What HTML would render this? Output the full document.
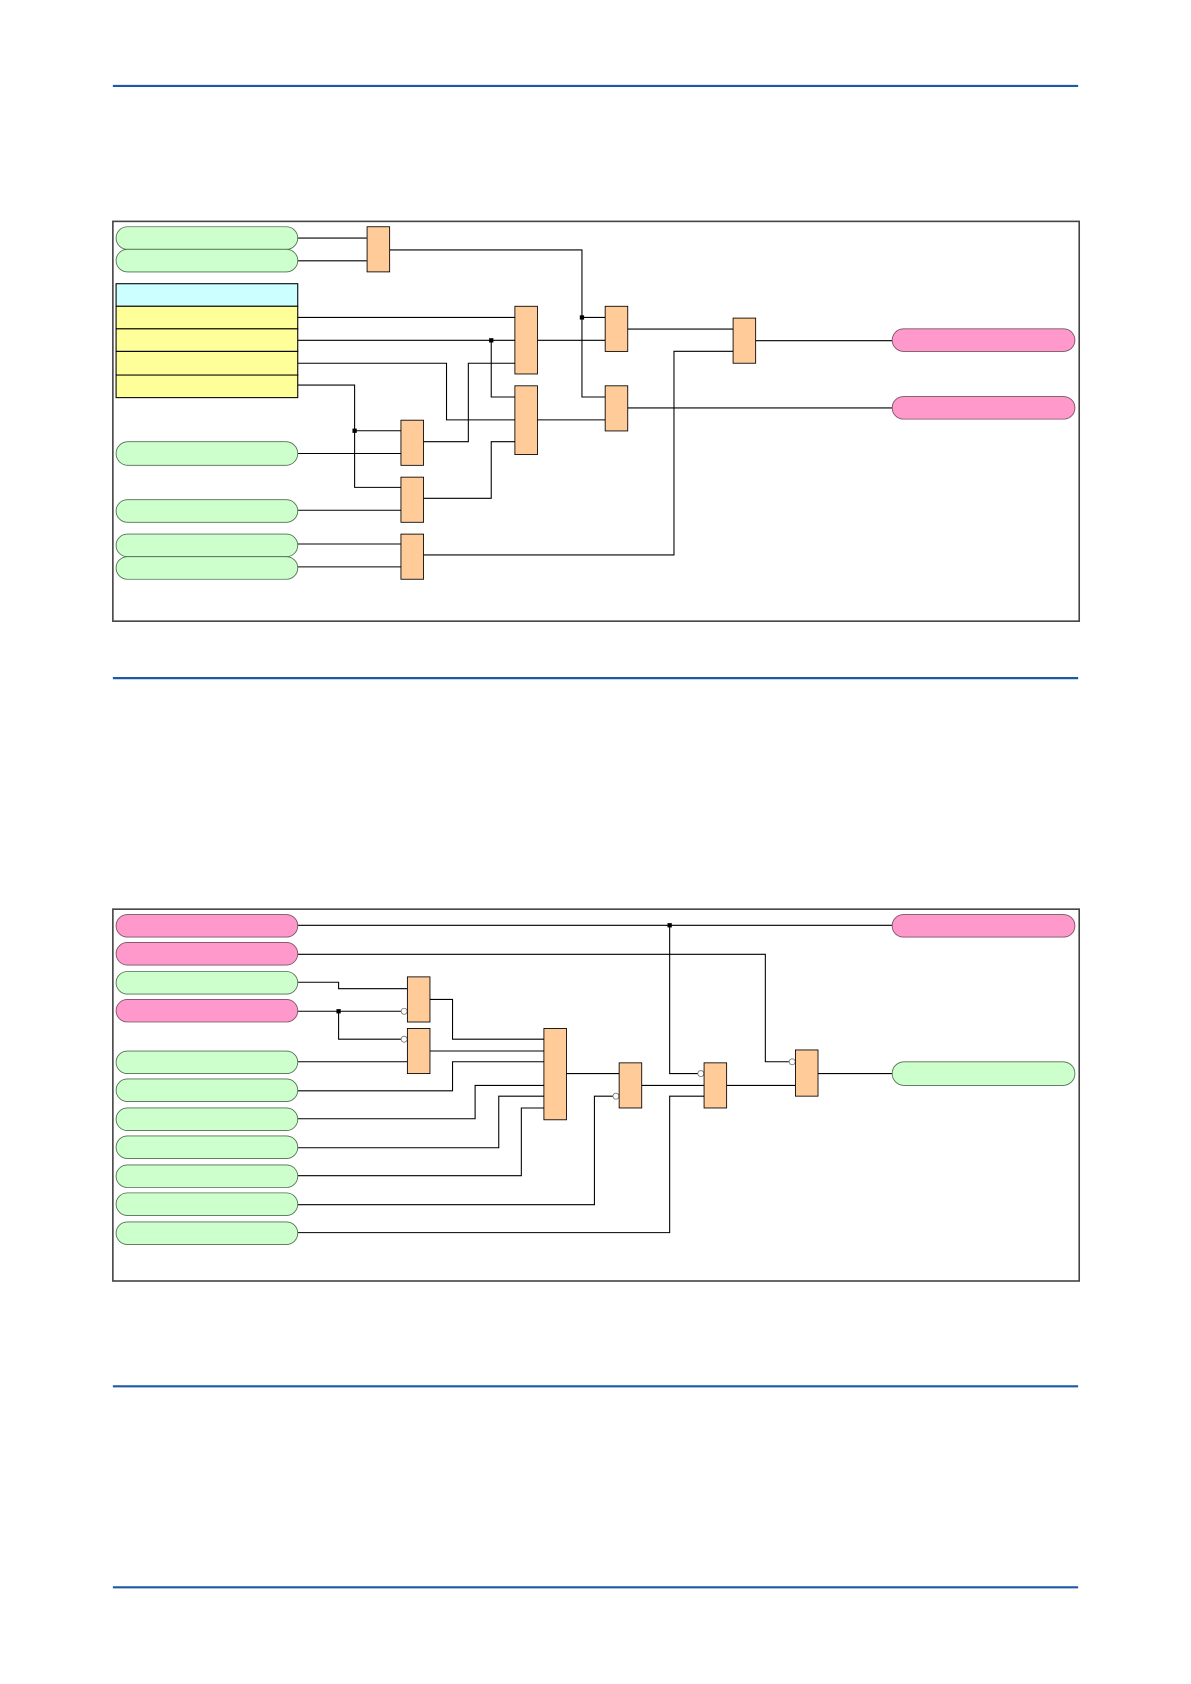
<!DOCTYPE html>
<html><head><meta charset="utf-8"><style>
html,body{margin:0;padding:0;background:#fff;}
svg{display:block;}
</style></head><body>
<svg width="1191" height="1684" viewBox="0 0 1108 1567" preserveAspectRatio="none" xmlns="http://www.w3.org/2000/svg">
<g stroke="#1a5aa6" stroke-width="2">
<line x1="105" y1="80" x2="1003" y2="80"/>
<line x1="105" y1="631" x2="1003" y2="631"/>
<line x1="105" y1="1290" x2="1003" y2="1290"/>
<line x1="105" y1="1477" x2="1003" y2="1477"/>
</g>
<!-- Diagram 1 -->
<rect x="105" y="206" width="899" height="372" fill="#fff" stroke="#444" stroke-width="1.5"/>
<g fill="none" stroke="#000" stroke-width="1">
<polyline points="277,221.5 341,221.5"/>
<polyline points="277,242.7 341,242.7"/>
<polyline points="362,232.6 541.4,232.6 541.4,369.4 563,369.4"/>
<polyline points="541.4,295.4 563,295.4"/>
<polyline points="277,295.4 479,295.4"/>
<polyline points="277,316.7 479,316.7"/>
<polyline points="457,316.7 457,369.4 479,369.4"/>
<polyline points="277,338 415.4,338 415.4,390.7 479,390.7"/>
<polyline points="394,411 435.7,411 435.7,338 479,338"/>
<polyline points="277,358.3 329.9,358.3 329.9,453.5 373,453.5"/>
<polyline points="329.9,400.8 373,400.8"/>
<polyline points="277,422 373,422"/>
<polyline points="394,463.7 457,463.7 457,411 479,411"/>
<polyline points="277,474.8 373,474.8"/>
<polyline points="277,506.2 373,506.2"/>
<polyline points="277,527.5 373,527.5"/>
<polyline points="394,516.4 627,516.4 627,326.9 682,326.9"/>
<polyline points="500,316.7 563,316.7"/>
<polyline points="584,306.2 682,306.2"/>
<polyline points="500,390.7 563,390.7"/>
<polyline points="584,379.6 830,379.6"/>
<polyline points="703,317 830,317"/>
</g>
<g fill="#000"><rect x="539.4" y="293.4" width="4" height="4"/><rect x="455" y="314.7" width="4" height="4"/><rect x="327.9" y="398.8" width="4" height="4"/></g>
<g fill="#ccffcc" stroke="#4f6f4f" stroke-width="0.8">
<rect x="108" y="211" width="169" height="21" rx="10.5"/>
<rect x="108" y="232" width="169" height="21" rx="10.5"/>
<rect x="108" y="411" width="169" height="22" rx="11"/>
<rect x="108" y="465" width="169" height="21" rx="10.5"/>
<rect x="108" y="497" width="169" height="21" rx="10.5"/>
<rect x="108" y="518" width="169" height="21" rx="10.5"/>
</g>
<g stroke="#000" stroke-width="1">
<rect x="108" y="264" width="169" height="21" fill="#ccffff"/>
<rect x="108" y="285" width="169" height="21" fill="#ffff99"/>
<rect x="108" y="306" width="169" height="21" fill="#ffff99"/>
<rect x="108" y="327" width="169" height="22" fill="#ffff99"/>
<rect x="108" y="349" width="169" height="21" fill="#ffff99"/>
</g>
<g fill="#ffcc99" stroke="#000" stroke-width="0.8">
<rect x="341.5" y="211" width="21" height="42"/>
<rect x="479" y="285" width="21" height="63"/>
<rect x="479" y="359" width="21" height="64"/>
<rect x="563" y="285" width="21" height="42"/>
<rect x="563" y="359" width="21" height="42"/>
<rect x="373" y="391" width="21" height="42"/>
<rect x="373" y="444" width="21" height="42"/>
<rect x="373" y="497" width="21" height="42"/>
<rect x="682" y="296" width="21" height="42"/>
</g>
<g fill="#ff99cc" stroke="#7a5060" stroke-width="0.8">
<rect x="830" y="306" width="170" height="21" rx="10.5"/>
<rect x="830" y="369" width="170" height="21" rx="10.5"/>
</g>
<!-- Diagram 2 -->
<rect x="105" y="846" width="899" height="346" fill="#fff" stroke="#444" stroke-width="1.5"/>
<g fill="none" stroke="#000" stroke-width="1">
<polyline points="277,861 830,861"/>
<polyline points="623,861 623,999 651,999"/>
<polyline points="277,888 712,888 712,988 736,988"/>
<polyline points="277,914 315,914 315,920 379,920"/>
<polyline points="277,941 375,941"/>
<polyline points="315,941 315,967 375,967"/>
<polyline points="277,988 379,988"/>
<polyline points="400,930 421,930 421,967 506,967"/>
<polyline points="400,978 506,978"/>
<polyline points="277,1015 421,1015 421,988 506,988"/>
<polyline points="277,1041 442,1041 442,1010 506,1010"/>
<polyline points="277,1068 464,1068 464,1020 506,1020"/>
<polyline points="277,1094 485,1094 485,1031 506,1031"/>
<polyline points="527,999 576,999"/>
<polyline points="277,1121 553,1121 553,1020 572,1020"/>
<polyline points="597,1010 655,1010"/>
<polyline points="277,1147 623,1147 623,1020 655,1020"/>
<polyline points="676,1010 740,1010"/>
<polyline points="761,999 830,999"/>
</g>
<g fill="#000"><rect x="621" y="859" width="4" height="4"/><rect x="313" y="939" width="4" height="4"/></g>
<g fill="#fff" stroke="#777" stroke-width="0.8">
<circle cx="376" cy="941" r="2.8"/><circle cx="376" cy="967" r="2.8"/>
<circle cx="573" cy="1020" r="2.8"/><circle cx="652" cy="999" r="2.8"/>
<circle cx="737" cy="988" r="2.8"/>
</g>
<g fill="#ff99cc" stroke="#7a5060" stroke-width="0.8">
<rect x="108" y="851" width="169" height="21" rx="10.5"/>
<rect x="108" y="877" width="169" height="21" rx="10.5"/>
<rect x="108" y="930" width="169" height="21" rx="10.5"/>
<rect x="830" y="851" width="170" height="21" rx="10.5"/>
</g>
<g fill="#ccffcc" stroke="#4f6f4f" stroke-width="0.8">
<rect x="108" y="904" width="169" height="21" rx="10.5"/>
<rect x="108" y="978" width="169" height="21" rx="10.5"/>
<rect x="108" y="1004" width="169" height="21" rx="10.5"/>
<rect x="108" y="1031" width="169" height="21" rx="10.5"/>
<rect x="108" y="1057" width="169" height="21" rx="10.5"/>
<rect x="108" y="1084" width="169" height="21" rx="10.5"/>
<rect x="108" y="1110" width="169" height="21" rx="10.5"/>
<rect x="108" y="1137" width="169" height="21" rx="10.5"/>
<rect x="830" y="988" width="170" height="22" rx="11"/>
</g>
<g fill="#ffcc99" stroke="#000" stroke-width="0.8">
<rect x="379" y="909" width="21" height="42"/>
<rect x="379" y="957" width="21" height="42"/>
<rect x="506" y="957" width="21" height="85"/>
<rect x="576" y="989" width="21" height="42"/>
<rect x="655" y="989" width="21" height="42"/>
<rect x="740" y="977" width="21" height="43"/>
</g>
</svg>
</body></html>
